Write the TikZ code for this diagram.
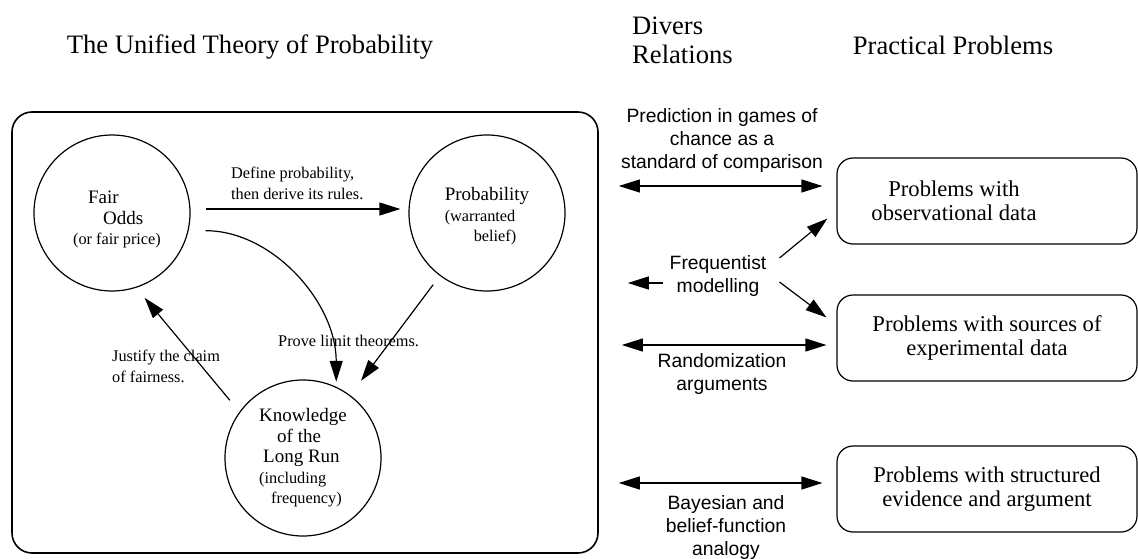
\documentclass[tikz,border=0pt]{standalone}
\usepackage{fontspec}
\setmainfont{Liberation Serif}
\setsansfont{Liberation Sans}
\usetikzlibrary{arrows.meta,calc}
\newcommand{\smalltxt}{\fontsize{16.3}{20.5}\selectfont}
\tikzset{
big circle/.style={draw, circle, line width=1.2pt, minimum size=156pt, inner sep=0pt, align=left, font=\fontsize{19}{20.5}\selectfont},
prob box/.style={draw, rounded corners=16pt, line width=1.2pt, minimum width=300pt, minimum height=86pt, inner sep=0pt, align=center, font=\fontsize{22.6}{24.5}\selectfont},
one way/.style={line width=1.2pt, -{Triangle[length=21pt,width=13pt]}},
two way/.style={line width=1.2pt, {Triangle[length=21pt,width=13pt]}-{Triangle[length=21pt,width=13pt]}},
edge text/.style={align=left, inner sep=0pt, font=\fontsize{16.3}{21}\selectfont},
rel text/.style={align=center, inner sep=0pt, font=\sffamily\fontsize{19.3}{23}\selectfont},
head/.style={inner sep=0pt, font=\fontsize{26.6}{29}\selectfont},
}

\begin{document}
\begin{tikzpicture}[x=1pt, y=-1pt]
\useasboundingbox (0,0) rectangle (1138,559);

\node[head, anchor=base] (title) at (250,54) {The Unified Theory of Probability};
\node[head, anchor=north west, align=left] (divers) at (632,17) {Divers\\Relations};
\node[head, anchor=base] (practical) at (953,55) {Practical Problems};

\node[draw, rounded corners=20pt, line width=1.6pt, minimum width=586pt, minimum height=441pt] (theory) at (305,332.5) {};

\node[big circle] (odds) at (112,213) {\hspace*{25pt}\rule{0pt}{26pt}Fair\\\hspace*{40pt}Odds\\\hspace*{10pt}{\smalltxt(or fair price)}};
\node[big circle] (prob) at (487,213) {\rule{0pt}{20pt}Probability\\{\smalltxt(warranted}\\\hspace*{29pt}{\smalltxt belief)}};
\node[big circle] (know) at (303,458) {Knowledge\\\hspace*{18pt}of the\\\hspace*{4pt}Long Run\\{\smalltxt(including}\\\hspace*{12pt}{\smalltxt frequency)}};

\draw[one way] ($(odds.east)+(15,-4)$) -- ($(prob.west)+(-8,-4)$);
\draw[one way, shorten <=17pt, shorten >=5pt] (odds.-13) to[out=0, in=90] (know.65);
\draw[one way, shorten <=11pt, shorten >=18pt] (prob) -- (know);
\draw[one way, shorten <=15pt, shorten >=13pt] (know.144) -- (odds.-72);

\node[edge text, anchor=west] (define) at (231,183) {Define probability,\\then derive its rules.};
\node[edge text, anchor=west] (prove) at (278,341) {Prove limit theorems.};
\node[edge text, anchor=west] (justify) at (112,366) {Justify the claim\\of fairness.};

\node[prob box] (obs) at (987,201) {\parbox{234pt}{\centering Problems with\\observational data}\hspace*{66pt}};
\node[prob box] (exp) at (987,338) {Problems with sources of\\experimental data};
\node[prob box] (struct) at (987,489) {Problems with structured\\evidence and argument};

\node[rel text] (pred) at (722,141) {Prediction in games of\\chance as a\\standard of comparison};
\node[rel text] (freq) at (718,276) {Frequentist\\modelling};
\node[rel text] (rand) at (722,374) {Randomization\\arguments};
\node[rel text] (bayes) at (726,528) {Bayesian and\\belief-function\\analogy};

\coordinate (lvla) at (0,186);
\coordinate (lvlf) at (0,283);
\coordinate (lvlb) at (0,345);
\coordinate (lvlc) at (0,483);

\draw[two way, shorten <=20pt, shorten >=14pt] (theory.east |- lvla) -- (obs.west |- lvla);
\draw[two way, shorten <=23pt, shorten >=10pt] (theory.east |- lvlb) -- (exp.west |- lvlb);
\draw[two way, shorten <=20pt, shorten >=14pt] (theory.east |- lvlc) -- (struct.west |- lvlc);
\draw[one way, shorten >=29pt] ($(freq.west)+(-7,7)$) -- (theory.east |- lvlf);
\draw[one way] ($(freq.east)+(13,-18)$) -- ($(obs.south west)+(-9,-26)$);
\draw[one way] ($(freq.east)+(13,6)$) -- ($(exp.north west)+(-10,23)$);
\end{tikzpicture}
\end{document}
